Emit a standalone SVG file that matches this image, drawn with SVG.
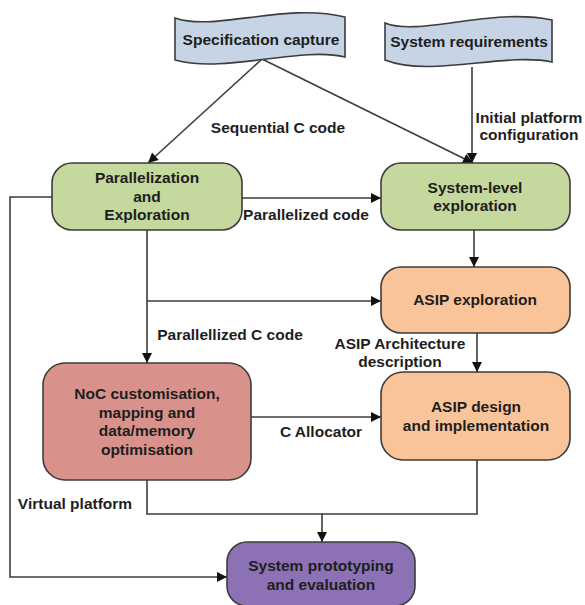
<svg xmlns="http://www.w3.org/2000/svg" width="585" height="605" viewBox="0 0 585 605">
  <style>
    text { font-family: "Liberation Sans", Arial, sans-serif; font-weight: bold; font-size: 15.5px; fill: #1e1e1e; text-anchor: middle; }
    .box { stroke: #3c3c3c; stroke-width: 1.6; }
    .banner { fill: #c6d4e6; stroke: #3c3c3c; stroke-width: 1.6; }
    .green { fill: #c5d89d; }
    .orange { fill: #fac49a; }
    .red { fill: #d9918c; }
    .purple { fill: #8c72b4; }
    .wire { fill: none; stroke: #3c3c3c; stroke-width: 1.6; }
    .arrow { marker-end: url(#head); }
  </style>
  <defs>
    <marker id="head" viewBox="0 0 10 10" refX="10" refY="5" markerWidth="12" markerHeight="10" orient="auto" markerUnits="userSpaceOnUse">
      <path d="M0,0 L10,5 L0,10 Z" fill="#111"/>
    </marker>
  </defs>
  <rect width="585" height="605" fill="#ffffff"/>

  <!-- connectors -->
  <g id="connectors">
    <line class="wire arrow" x1="262" y1="59" x2="148" y2="163"/>
    <line class="wire arrow" x1="262" y1="59" x2="473" y2="163"/>
    <line class="wire arrow" x1="472" y1="67" x2="472" y2="163"/>
    <line class="wire arrow" x1="242" y1="198" x2="381" y2="198"/>
    <line class="wire arrow" x1="474" y1="230" x2="474" y2="267"/>
    <line class="wire arrow" x1="147" y1="230" x2="147" y2="363"/>
    <line class="wire arrow" x1="147" y1="301" x2="381" y2="301"/>
    <line class="wire arrow" x1="477" y1="333" x2="477" y2="372"/>
    <line class="wire arrow" x1="251" y1="417" x2="381" y2="417"/>
    <polyline class="wire" points="147,480 147,514 477,514 477,460"/>
    <line class="wire arrow" x1="322" y1="514" x2="322" y2="542"/>
    <polyline class="wire arrow" points="52,197 10,197 10,577 227,577"/>
  </g>

  <!-- edge labels -->
  <g id="labels">
    <text x="278" y="133">Sequential C code</text>
    <text x="529" y="123">Initial platform</text>
    <text x="529" y="140">configuration</text>
    <text x="306" y="220">Parallelized code</text>
    <text x="230" y="340">Parallellized C code</text>
    <text x="400" y="349">ASIP Architecture</text>
    <text x="400" y="367">description</text>
    <text x="321" y="437">C Allocator</text>
    <text x="75" y="509">Virtual platform</text>
  </g>

  <g id="spec-capture">
    <path class="banner" d="M175,18 C215,32 285,2 345,17 L345,57 C300,46 225,74 175,60 Z"/>
    <text x="261" y="45">Specification capture</text>
  </g>

  <g id="system-requirements">
    <path class="banner" d="M385,23 C420,37 490,7 552,20 L552,62 C505,52 430,78 385,60 Z"/>
    <text x="469" y="47">System requirements</text>
  </g>

  <g id="parallelization">
    <rect class="box green" x="52" y="163" width="190" height="67" rx="20"/>
    <text x="147" y="183">Parallelization</text>
    <text x="147" y="202">and</text>
    <text x="147" y="220">Exploration</text>
  </g>

  <g id="system-level">
    <rect class="box green" x="381" y="163" width="189" height="67" rx="20"/>
    <text x="475" y="193">System-level</text>
    <text x="475" y="211">exploration</text>
  </g>

  <g id="asip-exploration">
    <rect class="box orange" x="381" y="267" width="189" height="66" rx="20"/>
    <text x="475" y="305">ASIP exploration</text>
  </g>

  <g id="noc">
    <rect class="box red" x="43" y="363" width="208" height="117" rx="22"/>
    <text x="147" y="399">NoC customisation,</text>
    <text x="147" y="418">mapping and</text>
    <text x="147" y="436">data/memory</text>
    <text x="147" y="455">optimisation</text>
  </g>

  <g id="asip-design">
    <rect class="box orange" x="381" y="372" width="189" height="88" rx="22"/>
    <text x="476" y="412">ASIP design</text>
    <text x="476" y="431">and implementation</text>
  </g>

  <g id="prototyping">
    <rect class="box purple" x="227" y="542" width="188" height="64" rx="20"/>
    <text x="321" y="571">System prototyping</text>
    <text x="321" y="590">and evaluation</text>
  </g>
</svg>
